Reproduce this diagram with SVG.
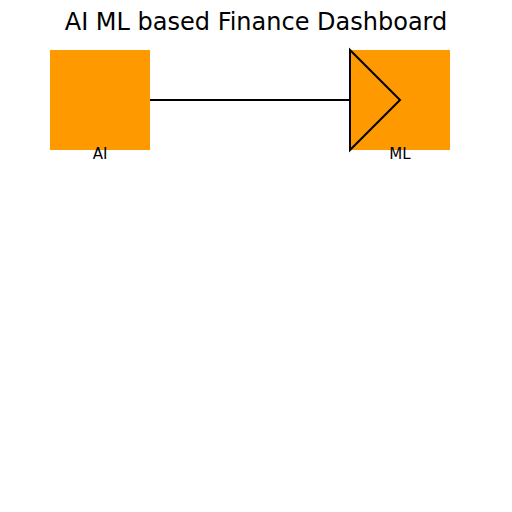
<svg xmlns="http://www.w3.org/2000/svg" width="512" height="512" viewBox="0 0 512 512">
<style>
.node rect{fill:#FF9900}
.lbl{font-family:"DejaVu Sans",sans-serif;font-size:15px;fill:#000;text-anchor:middle}
.title{font-family:"DejaVu Sans",sans-serif;font-size:24px;fill:#000;text-anchor:middle}
.edge{stroke:#000;stroke-width:2;fill:none}
.head{fill:#FF9900;stroke:#000;stroke-width:2}
</style>
<rect width="512" height="512" fill="#fff"/>
<text class="title" x="256" y="30">AI ML based Finance Dashboard</text>
<g id="node-ai" class="node">
<rect x="50" y="50" width="100" height="100"/>
<text class="lbl" x="100" y="158.5">AI</text>
</g>
<g id="node-ml" class="node">
<rect x="350" y="50" width="100" height="100"/>
<text class="lbl" x="400" y="158.5">ML</text>
</g>
<g id="connectors">
<line class="edge" x1="150" y1="100" x2="350" y2="100"/>
<polygon class="head" points="350,50 400,100 350,150"/>
</g>
</svg>
